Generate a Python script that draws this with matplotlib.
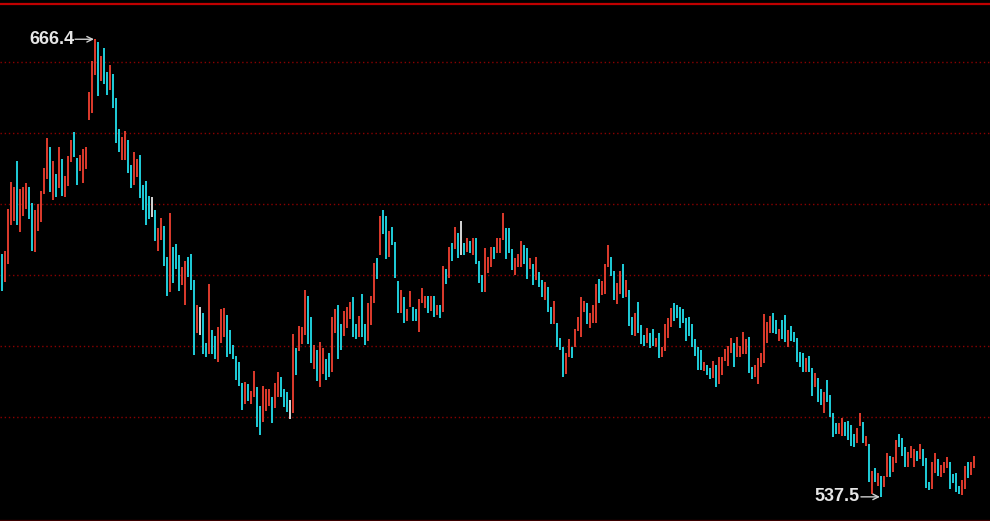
import numpy as np
import matplotlib
matplotlib.use("Agg")
import matplotlib.pyplot as plt

# ---- data (bar index starts at -1, partially clipped at the left edge) ----
highs = [
 610.4,
 605.9,606.8,618.6,626.2,624.9,632.1,624.1,624.9,625.8,624.9,
 620.3,618.2,619.9,623.7,630.1,638.5,636.0,632.1,628.4,636.0,
 632.6,627.9,633.4,638.0,640.2,633.0,633.8,635.5,636.1,651.6,
 660.3,666.4,665.5,661.8,663.9,657.2,659.2,656.6,649.8,641.0,
 639.0,640.6,638.0,630.9,634.6,632.6,633.8,625.3,626.6,622.3,
 622.1,618.2,613.2,616.1,613.9,605.1,617.4,608.0,608.8,605.5,
 602.2,603.9,605.1,605.8,598.6,591.5,591.1,589.2,580.9,597.5,
 584.5,582.7,585.3,590.3,590.7,588.6,584.5,580.2,577.2,575.5,
 569.5,569.9,569.2,567.4,573.0,568.4,563.2,568.7,567.8,568.0,
 565.7,569.5,572.6,571.2,567.8,567.0,564.9,583.5,579.3,585.6,
 585.3,595.8,594.2,588.2,580.2,578.9,581.0,579.5,576.4,578.0,
 588.2,590.4,591.5,586.2,589.8,591.1,592.4,593.7,586.1,588.5,
 594.6,586.1,592.0,594.1,603.5,604.7,616.6,618.3,616.6,612.3,
 613.6,609.3,598.4,595.8,593.7,590.3,595.4,591.1,590.3,593.2,
 596.3,594.1,594.1,594.1,594.1,591.5,591.5,602.6,601.7,608.0,
 608.9,613.6,611.9,615.2,608.9,610.5,609.6,610.5,610.5,603.9,
 600.0,607.7,605.0,608.0,608.0,610.5,610.5,617.4,613.2,613.2,
 607.2,604.7,605.8,609.6,608.4,607.5,604.7,603.1,605.0,600.8,
 598.6,597.9,596.5,591.1,592.8,586.4,582.2,579.6,578.1,581.9,
 579.6,584.8,588.2,593.7,592.8,592.2,589.4,591.5,597.5,598.8,
 598.3,603.0,608.4,605.0,601.2,597.7,601.2,603.0,598.6,595.8,
 588.1,589.4,592.4,585.9,583.1,585.2,583.6,584.8,582.2,583.6,
 579.6,586.1,587.8,590.6,592.0,591.5,591.1,590.3,587.8,588.1,
 586.1,581.9,579.8,578.9,575.4,574.6,573.9,575.9,574.6,576.8,
 576.8,579.1,580.1,582.3,580.9,582.6,580.1,583.9,581.9,582.6,
 574.2,574.6,576.7,577.9,589.0,586.8,588.5,589.4,587.3,584.8,
 587.3,588.6,584.5,585.6,583.9,582.2,578.4,577.9,576.7,577.2,
 573.7,572.5,570.9,567.9,567.0,570.4,566.2,561.0,558.2,558.2,
 559.6,558.5,558.9,557.7,555.2,556.8,561.2,558.5,554.7,552.3,
 544.7,545.5,544.3,543.4,543.4,549.8,549.0,548.8,553.5,555.2,
 554.0,551.5,550.2,551.8,551.0,550.5,552.4,551.0,548.5,541.8,
 547.3,549.8,548.1,546.5,547.2,548.8,547.2,543.9,544.3,540.6,
 542.2,546.3,547.2,547.2,548.9,
]
lows = [
 603.7,
 595.5,597.9,603.1,614.1,615.2,614.0,612.0,616.6,618.7,615.8,
 606.8,606.4,612.4,614.8,622.9,627.1,623.3,621.2,622.0,624.6,
 622.3,622.1,625.1,631.7,633.1,625.4,629.3,625.8,629.8,643.7,
 645.7,656.3,650.3,654.6,653.8,650.8,652.0,647.0,637.3,634.7,
 632.3,632.3,628.7,624.6,625.3,627.5,621.7,618.3,614.1,615.8,
 616.4,609.7,606.8,609.8,602.6,594.2,595.3,597.7,601.7,595.5,
 597.1,591.5,599.5,595.8,577.5,583.6,583.1,577.6,576.8,577.6,
 577.6,576.4,575.6,580.9,582.6,576.8,577.6,576.3,570.4,568.7,
 562.0,563.7,564.6,563.7,565.5,557.3,554.8,558.7,561.7,563.1,
 558.2,562.4,565.7,565.7,562.9,561.5,559.4,561.1,571.7,578.6,
 580.5,583.1,580.6,575.1,573.4,570.1,568.4,572.1,570.4,571.3,
 572.6,583.6,576.4,578.9,582.8,585.0,587.5,582.4,582.0,582.4,
 582.4,580.3,581.5,585.8,592.2,598.8,605.6,611.5,604.4,605.1,
 608.5,599.2,589.2,589.2,586.6,587.0,590.9,587.1,587.0,584.0,
 592.0,590.8,589.2,589.9,588.2,588.7,587.8,589.5,597.5,599.2,
 603.9,607.2,604.7,605.6,605.6,606.4,606.1,605.6,603.1,597.7,
 595.3,595.1,600.6,602.3,604.4,606.1,606.1,609.8,604.4,606.1,
 601.4,600.0,602.3,602.3,603.1,598.9,601.7,597.1,598.6,596.7,
 593.9,593.0,589.7,586.2,586.2,579.8,578.9,571.3,572.1,577.0,
 576.5,579.8,584.3,582.4,589.7,586.2,585.0,586.4,586.4,592.0,
 594.4,594.6,602.3,599.7,593.0,591.7,594.6,593.4,593.7,585.7,
 583.1,582.8,583.6,580.5,580.1,580.8,579.3,580.1,579.6,576.5,
 576.8,578.7,582.3,585.4,587.0,587.8,585.0,586.4,581.5,582.8,
 579.8,577.2,573.2,573.2,573.0,571.8,570.6,571.1,568.5,569.3,
 571.8,575.8,574.4,578.1,574.0,577.0,577.0,577.7,577.7,572.3,
 570.6,571.3,569.3,574.0,575.3,580.9,583.7,583.6,583.4,581.5,
 582.0,581.1,579.6,581.3,581.0,575.6,574.0,572.6,572.6,572.6,
 565.9,568.5,564.1,563.4,561.2,564.1,560.1,554.4,555.2,555.2,
 554.7,554.7,553.5,551.8,551.5,552.8,557.5,552.8,551.8,541.8,
 538.3,541.8,540.6,537.5,540.2,543.0,543.0,544.6,547.0,551.5,
 549.1,546.0,546.0,548.4,546.0,547.7,548.1,546.3,540.1,539.4,
 539.6,544.3,543.5,543.0,544.3,545.5,539.6,541.5,539.0,538.3,
 538.0,539.6,542.7,543.7,545.5,
]
# r = up bar, c = down bar, w = unchanged
directions = ("r"
    "crrrrcrrrc" "crrrrrcrcr" "crrrccrrrr" "rrcrccrccc" "rrccrrcccc"
    "wcrrccrccc" "rrcccrwccr" "ccrrrccccc" "crcrrccrrr" "crrcccwrcr"
    "rrccrcrrcc" "rrccrrrccr" "ccrrrcrccr" "cccrcrrccr" "rrcrcrcrcr"
    "crcwcrcrcc" "crrrcrrrcc" "crrrccrcrc" "crccrcccrr" "crrrrcrrrc"
    "rrrccrrcrc" "crcccrccrc" "rrrrcccccc" "ccccrccrcr" "rrrrcrrrrc"
    "crrrrrrccr" "ccrcccccrc" "crccrccccr" "rccccrrcrc" "rcrcrrcrrc"
    "ccrrrcrccc" "rrcrrrcccc" "rrcrr")
grid_levels = [560, 580, 600, 620, 640, 660]

# ---- drawing ----
BG = "#000000"
palette = {"r": "#d8392b", "c": "#1ec8d4", "w": "#d0d0d0"}

highs = np.array(highs)
lows = np.array(lows)
x = np.arange(-1, -1 + len(highs))
colors = [palette[d] for d in directions]

fig = plt.figure(figsize=(9.90, 5.21), dpi=100, facecolor=BG)
ax = fig.add_axes([0, 1.0 / 521, 1, 1 - 4.5 / 521])
ax.set_facecolor(BG)

ax.bar(x, highs - lows, bottom=lows, width=2.0 / 3, color=colors,
       linewidth=0, antialiased=True, zorder=3)

ax.set_xlim(-2.0 / 3, 988.0 / 3)
ax.set_ylim(530.98, 676.47)

ax.set_yticks(grid_levels)
ax.yaxis.grid(True, color="#8a0000", linestyle=(0, (1, 2)), linewidth=1.0)
ax.tick_params(left=False, bottom=False, labelleft=False, labelbottom=False)
ax.set_xticks([])

for s in ("left", "right"):
    ax.spines[s].set_visible(False)
ax.spines["top"].set_color("#c00000")
ax.spines["top"].set_linewidth(1.6)
ax.spines["bottom"].set_color("#3a0000")
ax.spines["bottom"].set_linewidth(1.0)

imax = int(np.argmax(highs))
imin = int(np.argmin(lows))
label_style = dict(color="#e6e6e6", fontsize=13, fontweight="bold",
                   family=["Liberation Sans", "DejaVu Sans"],
                   ha="right", va="center", textcoords="offset pixels")
arrow_style = dict(arrowstyle="->", color="#d0d0d0", lw=1.0, shrinkA=0, shrinkB=0)

for i, val in ((imax, highs[imax]), (imin, lows[imin])):
    ax.annotate("", xy=(x[i] - 0.35, val), xytext=(-19, 0), textcoords="offset pixels",
                arrowprops=arrow_style, zorder=4)
    ax.annotate(f"{val:.1f}", xy=(x[i], val), xytext=(-21, 0), **label_style, zorder=4)

fig.savefig("out.png", dpi=100, facecolor=BG)
